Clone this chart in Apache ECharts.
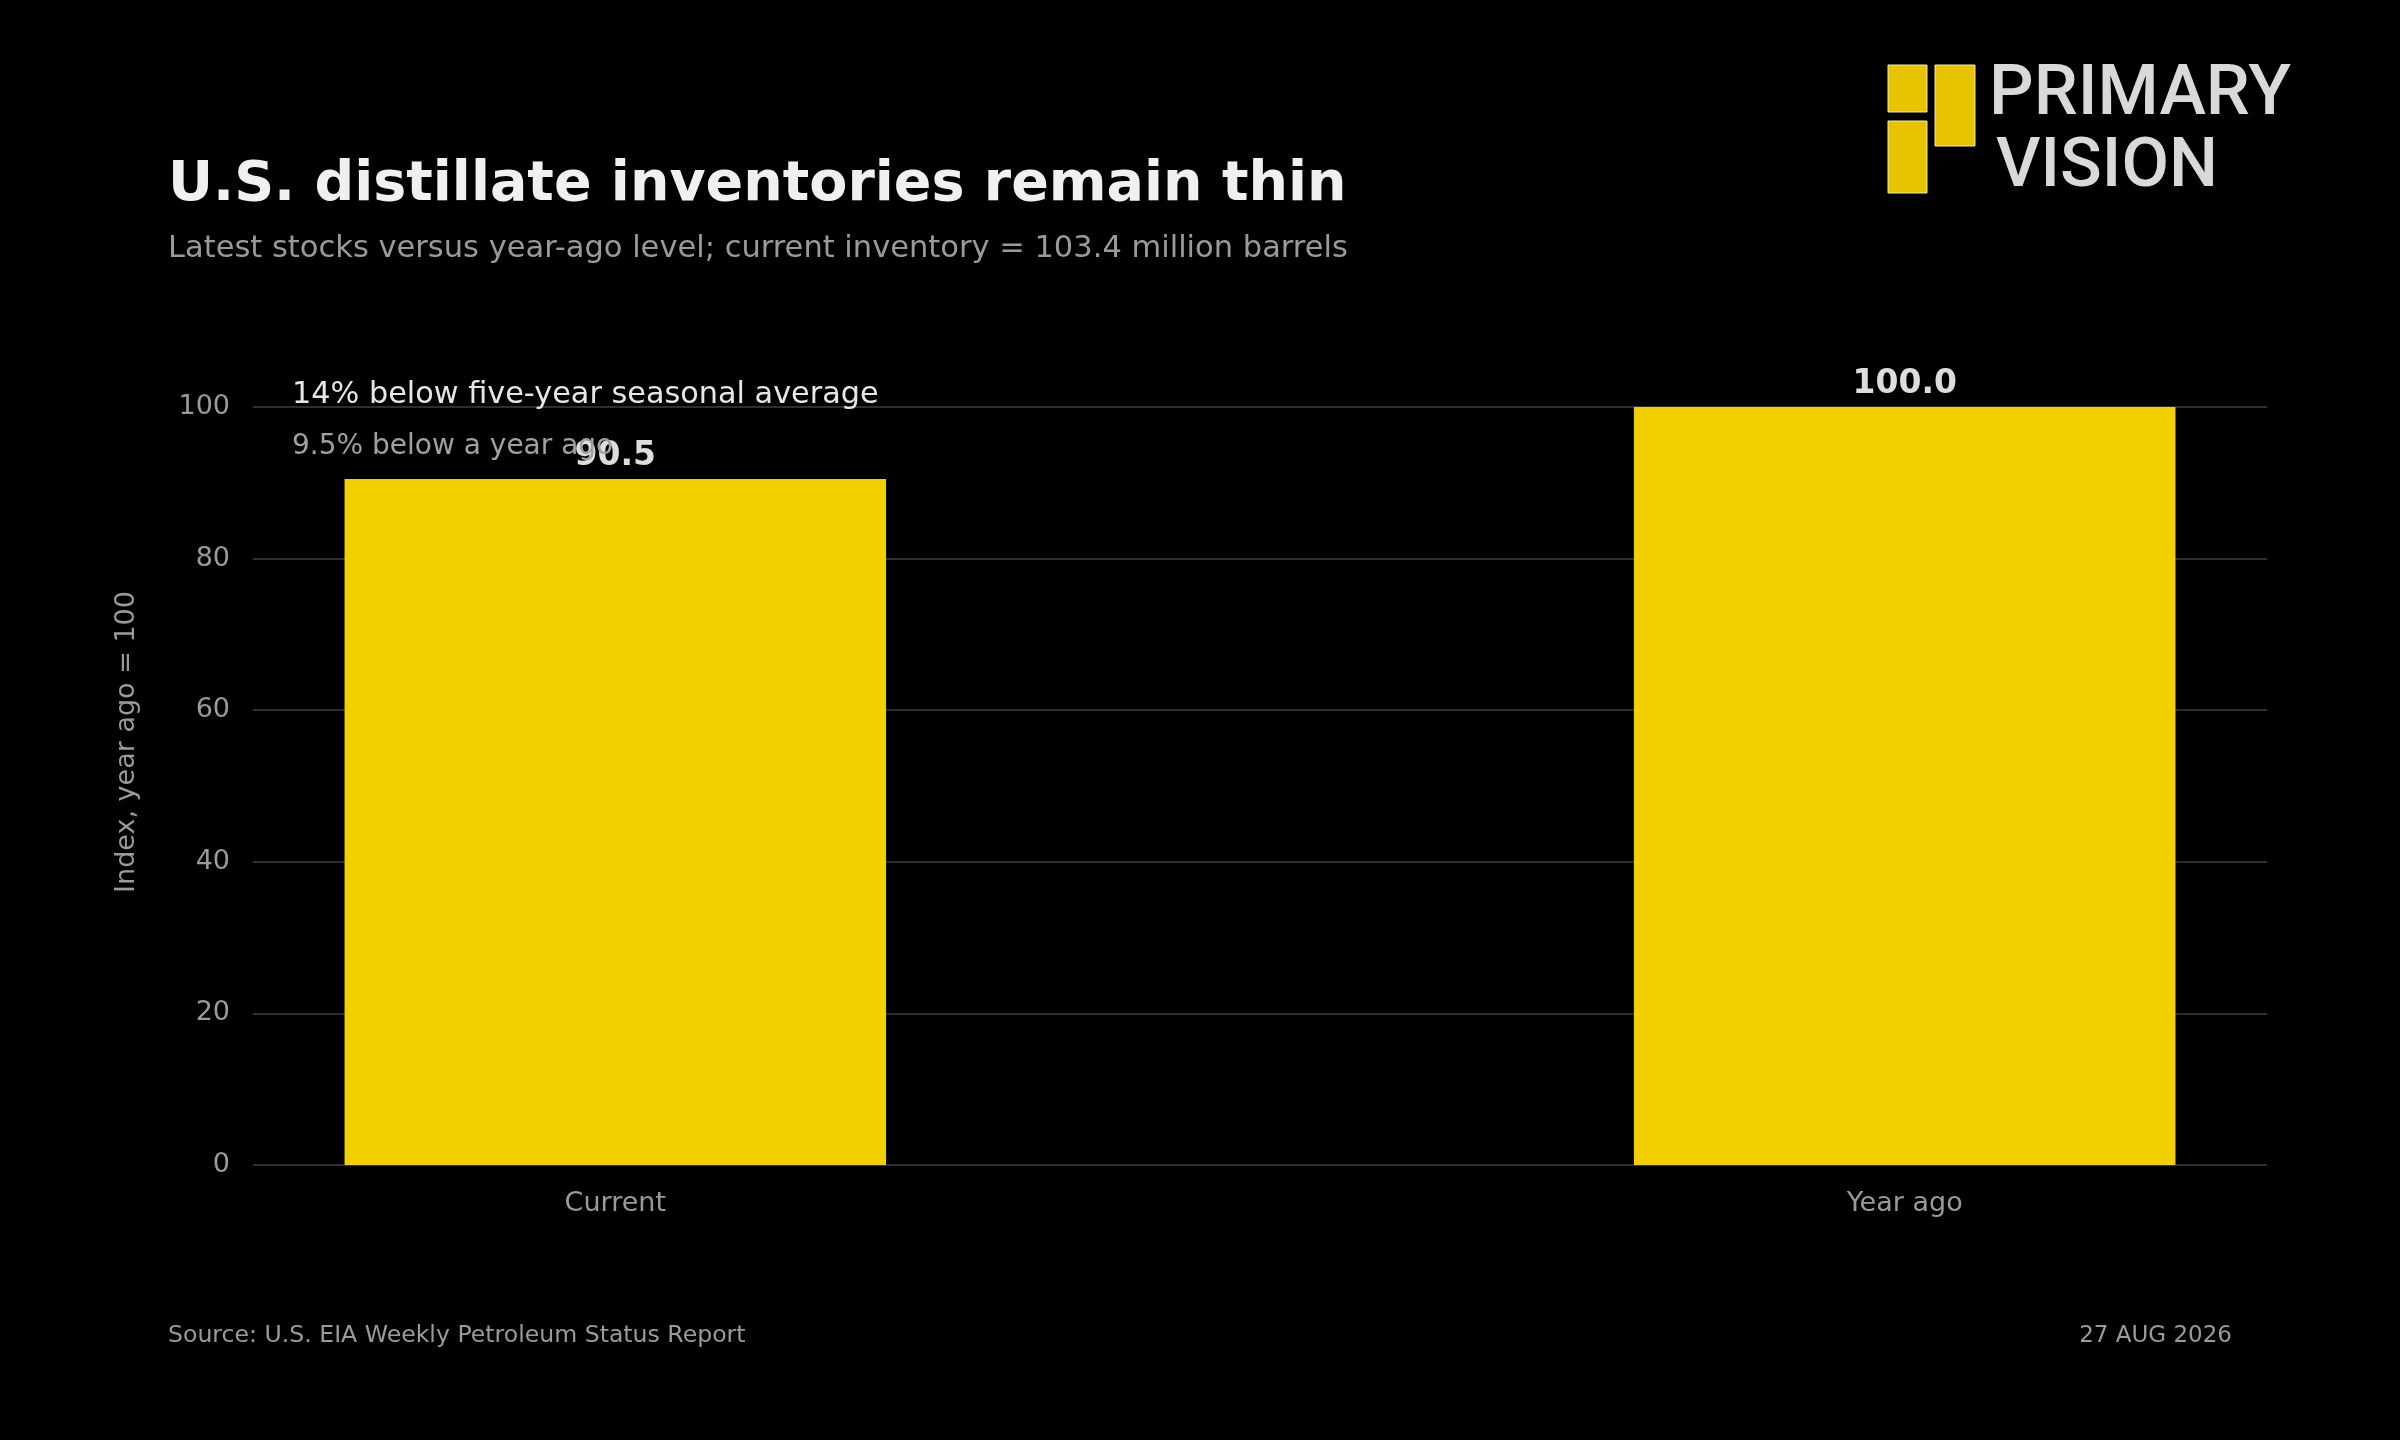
<!DOCTYPE html>
<html>
<head>
<meta charset="utf-8">
<title>U.S. distillate inventories remain thin</title>
<script src="https://cdn.jsdelivr.net/npm/echarts@6/dist/echarts.min.js"></script>
<style>
  html, body { margin: 0; padding: 0; background: #000; }
  #chart { width: 2400px; height: 1440px; }
</style>
</head>
<body>
<div id="chart"></div>
<script>
// data
var categories = ['Current', 'Year ago'];
var indexValues = [90.5, 100.0];
var yMin = 0, yMax = 100, yStep = 20;

var titleText = 'U.S. distillate inventories remain thin';
var subtitleText = 'Latest stocks versus year-ago level; current inventory = 103.4 million barrels';
var noteMain = '14% below five-year seasonal average';
var noteSub = '9.5% below a year ago';
var sourceText = 'Source: U.S. EIA Weekly Petroleum Status Report';
var dateText = '27 AUG 2026';
var yName = 'Index, year ago = 100';

var FONT = 'DejaVu Sans';
var gridBox = { left: 253, right: 133, top: 407, bottom: 275 };
var xMin = -0.281, xMax = 1.281, barUnits = 0.42;
var gridWidth = 2400 - gridBox.left - gridBox.right;
var barPx = barUnits / (xMax - xMin) * gridWidth;

function txt(x, y, text, font, fill, align, extra) {
    var el = {
        type: 'text', x: x, y: y, z: 10,
        style: { text: text, font: font, fill: fill, textAlign: align || 'left', textVerticalAlign: 'middle' }
    };
    for (var k in extra) el[k] = extra[k];
    return el;
}

var chart = echarts.init(document.getElementById('chart'), null, { renderer: 'canvas' });

chart.setOption({
    backgroundColor: '#000000',
    animation: false,
    textStyle: { fontFamily: FONT },
    grid: gridBox,
    xAxis: {
        type: 'value',
        min: xMin,
        max: xMax,
        splitLine: { show: false },
        axisLine: { show: false },
        axisTick: { show: false },
        axisLabel: {
            customValues: categories.map(function (c, i) { return i; }),
            formatter: function (v) { return categories[Math.round(v)] || ''; },
            color: '#9a9a9a',
            fontSize: 27,
            fontFamily: FONT,
            margin: 25
        }
    },
    yAxis: {
        type: 'value',
        min: yMin,
        max: yMax,
        interval: yStep,
        axisLine: { show: false },
        axisTick: { show: false },
        splitLine: { lineStyle: { color: '#2e2e2e', width: 2 } },
        axisLabel: { color: '#9a9a9a', fontSize: 27, fontFamily: FONT, margin: 23, padding: [4, 0, 0, 0] }
    },
    series: [{
        type: 'bar',
        barWidth: barPx,
        itemStyle: { color: '#f2d000' },
        label: {
            show: true,
            position: 'top',
            distance: 6,
            color: '#dddddd',
            fontSize: 33,
            fontWeight: 'bold',
            fontFamily: FONT,
            formatter: function (p) { return p.value[1].toFixed(1); }
        },
        data: categories.map(function (c, i) { return [i, indexValues[i]]; })
    }],
    graphic: [
        txt(168, 186, titleText, 'bold 55.5px "DejaVu Sans"', '#f0f0f0'),
        txt(168, 249, subtitleText, '30.5px "DejaVu Sans"', '#9a9a9a'),
        txt(292, 395, noteMain, '30.3px "DejaVu Sans"', '#e6e6e6'),
        txt(292, 447, noteSub, '28px "DejaVu Sans"', '#a0a0a0'),
        txt(127, 742, yName, '27px "DejaVu Sans"', '#9a9a9a', 'center', { rotation: Math.PI / 2 }),
        txt(168, 1336, sourceText, '23.6px "DejaVu Sans"', '#9a9a9a'),
        txt(2232, 1336, dateText, '23px "DejaVu Sans"', '#9a9a9a', 'right'),
        // logo
        { type: 'rect', shape: { x: 1888, y: 65, width: 39, height: 47 }, style: { fill: '#e8c400', stroke: '#f3e9a8', lineWidth: 1 } },
        { type: 'rect', shape: { x: 1888, y: 121, width: 39, height: 72 }, style: { fill: '#e8c400', stroke: '#f3e9a8', lineWidth: 1 } },
        { type: 'rect', shape: { x: 1935, y: 65, width: 40, height: 81 }, style: { fill: '#e8c400', stroke: '#f3e9a8', lineWidth: 1 } },
        txt(1989, 96, 'PRIMARY', '500 70px Roboto', '#d9d9d9'),
        txt(1996, 169, 'VISION', '500 69px Roboto', '#d9d9d9')
    ]
});
</script>
</body>
</html>
